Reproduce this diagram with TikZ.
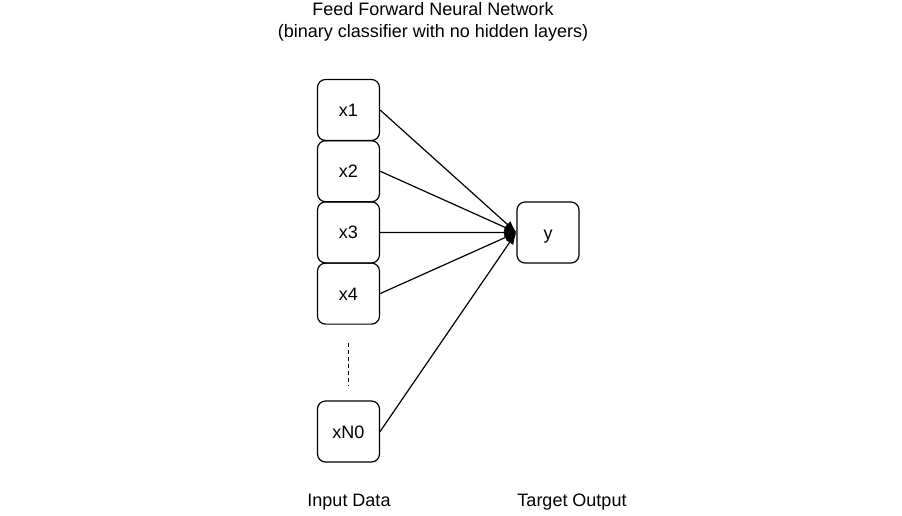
\documentclass[tikz,border=0pt]{standalone}
\usepackage{fontspec}
\setmainfont{Liberation Sans}
\usetikzlibrary{positioning,arrows.meta}
\tikzset{%
  unit/.style={draw,rounded corners=8pt,minimum width=62pt,minimum height=61pt,
    line width=1.2pt,text height=13pt,text depth=0pt,
    font=\fontsize{18}{22}\selectfont},
  lbl/.style={font=\fontsize{18}{22}\selectfont},
  wire/.style={line width=1.2pt,-{Latex[length=12pt,width=9pt]}},
  gap/.style={line width=1pt,dash pattern=on 4pt off 3pt}
}

\begin{document}
\begin{tikzpicture}[x=1pt,y=-1pt]
  \useasboundingbox (0,0) rectangle (902,515);

  \node[lbl,align=center] (title) at (433,22)
    {Feed Forward Neural Network\\(binary classifier with no hidden layers)};

  \node[unit] (x1) at (348.5,110) {x1};
  \node[unit,below=-1pt of x1] (x2) {x2};
  \node[unit,below=-1pt of x2] (x3) {x3};
  \node[unit,below=-1pt of x3] (x4) {x4};
  \node[unit] (xN0) at (348.5,431.5) {xN0};

  \node[unit] (y) at (548,232.5) {y};

  \draw[gap] ([yshift=-18pt]x4.south) -- ([yshift=15pt]xN0.north);

  \foreach \i in {x1,x2,x3,x4,xN0}
    \draw[wire] (\i.east) -- (y.west);

  \node[lbl] (inp) at (349,502) {Input Data};
  \node[lbl] (tgt) at (572,502) {Target Output};
\end{tikzpicture}
\end{document}
